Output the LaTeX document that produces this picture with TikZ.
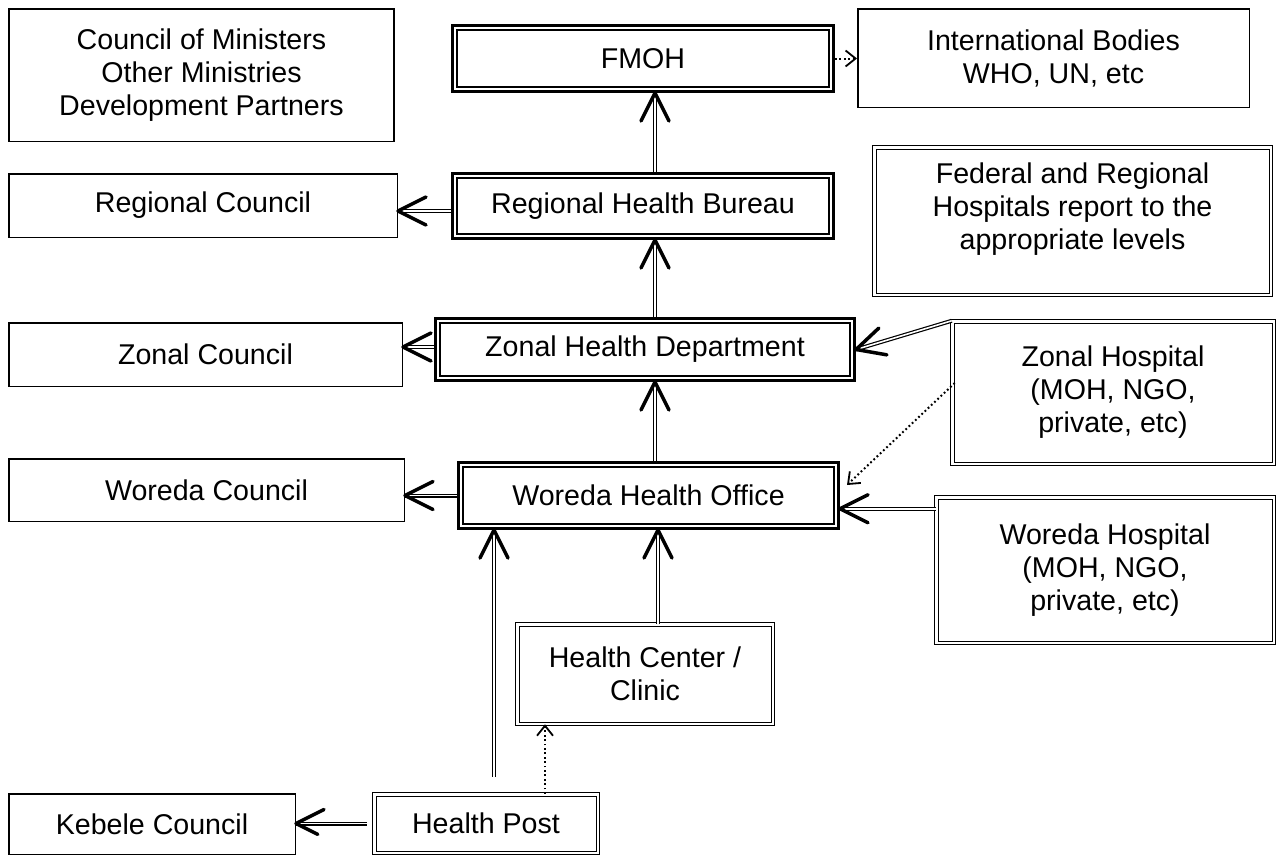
\documentclass[tikz,border=0pt]{standalone}
\usepackage{fontspec}
\setmainfont{Liberation Sans}
\usetikzlibrary{arrows.meta,decorations.markings,calc}

\begin{document}
\begin{tikzpicture}[x=0.5pt,y=-0.5pt,
  every node/.style={font=\fontsize{14.3pt}{16.5pt}\selectfont, align=center, inner sep=0pt},
  plainbox/.style={draw, line width=0.75pt},
  mainbox/.style={draw, line width=1.6pt,
    path picture={\draw[line width=0.75pt]
      ([shift={(2.1pt,2.1pt)}]path picture bounding box.south west) rectangle
      ([shift={(-2.1pt,-2.1pt)}]path picture bounding box.north east);}},
  hospbox/.style={draw, double, line width=0.5pt, double distance=1.25pt},
  link/.style={line width=2pt,
    postaction={draw=white, line width=0.8pt},
    postaction={decorate, decoration={markings, mark=at position 0.9999 with
      {\draw[black, line width=1.75pt, line cap=round, line join=round]
        (-14pt,7pt) -- (0pt,0pt) -- (-14pt,-7pt);}}}},
  dotlink/.style={line width=1pt, dash pattern=on 0.9pt off 1.3pt,
    -{Straight Barb[length=5pt,width=8pt,line width=0.9pt]}},
]
\fill[white] (0,0) rectangle (1283,857);
\useasboundingbox (0,0) rectangle (1283,857);

% councils (plain frames)
\node[plainbox, minimum width=192.5pt, minimum height=66.25pt] (council) at (201.5,75)
  {Council of Ministers\\Other Ministries\\Development Partners};
\node[plainbox, minimum width=195.75pt, minimum height=49.25pt] (intl) at (1053.5,58)
  {International Bodies\\WHO, UN, etc};
\node[plainbox, minimum width=194.25pt, minimum height=31.75pt] (rc) at (203,205.5) {Regional Council};
\node[plainbox, minimum width=196.75pt, minimum height=31.75pt] (zc) at (205.5,354.5) {Zonal Council};
\node[plainbox, minimum width=197.75pt, minimum height=31.25pt] (wc) at (206.5,490) {Woreda Council};
\node[plainbox, minimum width=143.25pt, minimum height=30.25pt] (kc) at (152,824) {Kebele Council};

% health administration chain
\node[mainbox, minimum width=190.4pt, minimum height=32.9pt] (fmoh) at (643,58.5) {FMOH};
\node[mainbox, minimum width=190.4pt, minimum height=32.4pt] (rhb) at (643,206) {Regional Health Bureau};
\node[mainbox, minimum width=209.4pt, minimum height=30.9pt] (zhd) at (645,349.5) {Zonal Health Department};
\node[mainbox, minimum width=189.9pt, minimum height=32.9pt] (who) at (648.5,495.5) {Woreda Health Office};

% facilities
\node[hospbox, minimum width=198.25pt, minimum height=73.75pt] (fed) at (1072.5,221)
  {Federal and Regional\\Hospitals report to the\\appropriate levels\rule[-15pt]{0pt}{15pt}};
\node[hospbox, minimum width=160.75pt, minimum height=71.25pt] (zh) at (1113,392.5)
  {Zonal Hospital\\(MOH, NGO,\\private, etc)};
\node[hospbox, minimum width=168.75pt, minimum height=72.75pt] (wh) at (1105,570)
  {Woreda Hospital\\(MOH, NGO,\\private, etc)};
\node[hospbox, minimum width=127.75pt, minimum height=49.75pt] (hc) at (645,674)
  {Health Center /\\Clinic};
\node[hospbox, minimum width=111.75pt, minimum height=29.25pt] (hp) at (486,823.5) {Health Post};

% guide columns for vertical links
\coordinate (spine) at (655,0);
\coordinate (spineb) at (658,0);
\coordinate (postx) at (494,0);
\coordinate (dotx) at (545,0);

% reporting links
\draw[link] (rhb.north -| spine) -- (fmoh.south -| spine);
\draw[link] (zhd.north -| spine) -- (rhb.south -| spine);
\draw[link] (who.north -| spine) -- (zhd.south -| spine);
\draw[link] (hc.north -| spineb) -- (who.south -| spineb);
\draw[link] ($(hp.north -| postx)+(0,-17)$) -- (who.south -| postx);

\draw[link] ($(rhb.west)+(0,5)$) -- ($(rc.east |- rhb.west)+(0,5)$);
\draw[link] ($(zhd.west)+(0,-2.5)$) -- ($(zc.east |- zhd.west)+(0,-2.5)$);
\draw[link] (who.west) -- (wc.east |- who.west);
\draw[link, shorten <=3.5pt] (hp.west) -- (kc.east |- hp.west);

\draw[link] (zh.north west) -- (zhd.east);
\draw[link] ($(wh.north west)+(0,12)$) -- ($(who.east |- wh.north west)+(0,12)$);

% informal links
\draw[dotlink] (fmoh.east) -- (intl.west |- fmoh.east);
\draw[dotlink] (hp.north -| dotx) -- (hc.south -| dotx);
\draw[dotlink] ($(zh.west)+(3,-9.5)$) -- ($(who.east)+(7,-10.5)$);
\end{tikzpicture}
\end{document}
